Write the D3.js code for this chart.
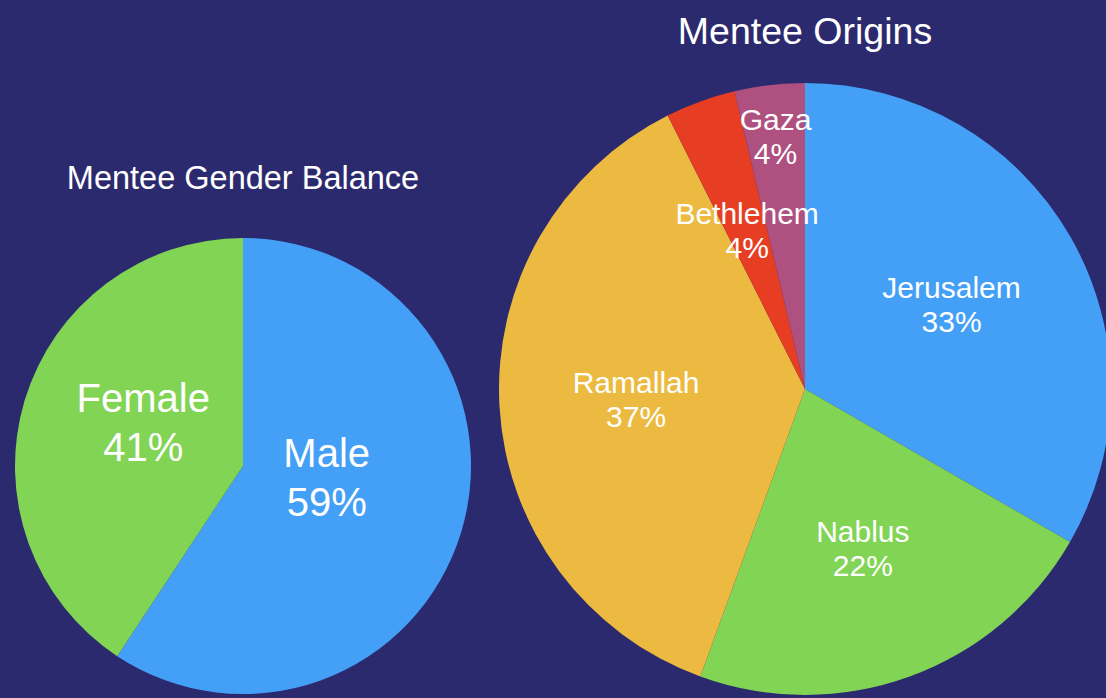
<!DOCTYPE html>
<html>
<head>
<meta charset="utf-8">
<script src="https://cdn.jsdelivr.net/npm/d3@7"></script>
<style>
  html, body { margin: 0; padding: 0; background: #2c2a6e; }
  svg { display: block; }
  text { font-family: "Liberation Sans", Arial, Helvetica, sans-serif; fill: #ffffff; }
</style>
</head>
<body>
<svg id="chart"></svg>
<script>
// data (shares in percent)
var genderLabels = ["Male", "Female"];
var genderShares = [59.3, 40.7];
var genderColors = ["#44a0f6", "#82d455"];

var originLabels = ["Jerusalem", "Nablus", "Ramallah", "Bethlehem", "Gaza"];
var originShares = [33.3, 22.2, 37.0, 3.7, 3.7];
var originColors = ["#44a0f6", "#82d455", "#ecba40", "#e73e23", "#ae5080"];

var dimensions = { width: 1106, height: 698 };

var svg = d3.select("#chart")
  .attr("width", dimensions.width)
  .attr("height", dimensions.height);

svg.append("rect")
  .attr("width", dimensions.width)
  .attr("height", dimensions.height)
  .attr("fill", "#2c2a6e");

function drawPie(opts) {
  var data = opts.labels.map(function(l, i) {
    return { label: l, value: opts.values[i], color: opts.colors[i] };
  });

  var pie = d3.pie().sort(null).value(function(d) { return d.value; });
  var arcs = pie(data);

  var g = svg.append("g")
    .attr("transform", "translate(" + opts.cx + "," + opts.cy + ")");

  var arc = d3.arc().innerRadius(0).outerRadius(opts.r);

  g.selectAll("path")
    .data(arcs)
    .enter()
    .append("path")
      .attr("d", arc)
      .attr("fill", function(d) { return d.data.color; });

  // title above the pie
  svg.append("text")
    .text(opts.title)
    .attr("x", opts.cx)
    .attr("y", opts.titleY)
    .attr("text-anchor", "middle")
    .style("font-size", opts.titleSize + "px");

  // labels, pushed out when they run into an earlier one
  var capH = 0.716 * opts.fontSize;
  var placed = [];
  arcs.forEach(function(d) {
    var txt = g.append("text")
      .attr("text-anchor", "middle")
      .style("font-size", opts.fontSize + "px");
    txt.append("tspan").attr("class", "l1").text(d.data.label);
    txt.append("tspan").attr("class", "l2").text(Math.round(d.data.value) + "%");

    function place(k) {
      var c = d3.arc().innerRadius(opts.r * k).outerRadius(opts.r * k).centroid(d);
      var x = c[0] + opts.shiftX;
      var b1 = c[1] + opts.shiftY - (opts.lineH - capH) / 2;
      txt.select(".l1").attr("x", x).attr("y", b1);
      txt.select(".l2").attr("x", x).attr("y", b1 + opts.lineH);
      return txt.node().getBBox();
    }

    var box = place(opts.labelK);
    var hit = placed.some(function(p) {
      return box.x < p.x + p.width && p.x < box.x + box.width &&
             box.y < p.y + p.height && p.y < box.y + box.height;
    });
    if (hit) box = place(opts.outerK);
    placed.push(box);
  });
}

drawPie({
  labels: genderLabels, values: genderShares, colors: genderColors,
  cx: 243, cy: 466, r: 228,
  title: "Mentee Gender Balance", titleY: 189, titleSize: 32.5,
  fontSize: 40, lineH: 49, labelK: 0.42, outerK: 0.8, shiftX: -8, shiftY: -16
});

drawPie({
  labels: originLabels, values: originShares, colors: originColors,
  cx: 805, cy: 389, r: 306,
  title: "Mentee Origins", titleY: 44, titleSize: 37.5,
  fontSize: 30, lineH: 34, labelK: 0.553, outerK: 0.83, shiftX: 0, shiftY: 0
});
</script>
</body>
</html>
